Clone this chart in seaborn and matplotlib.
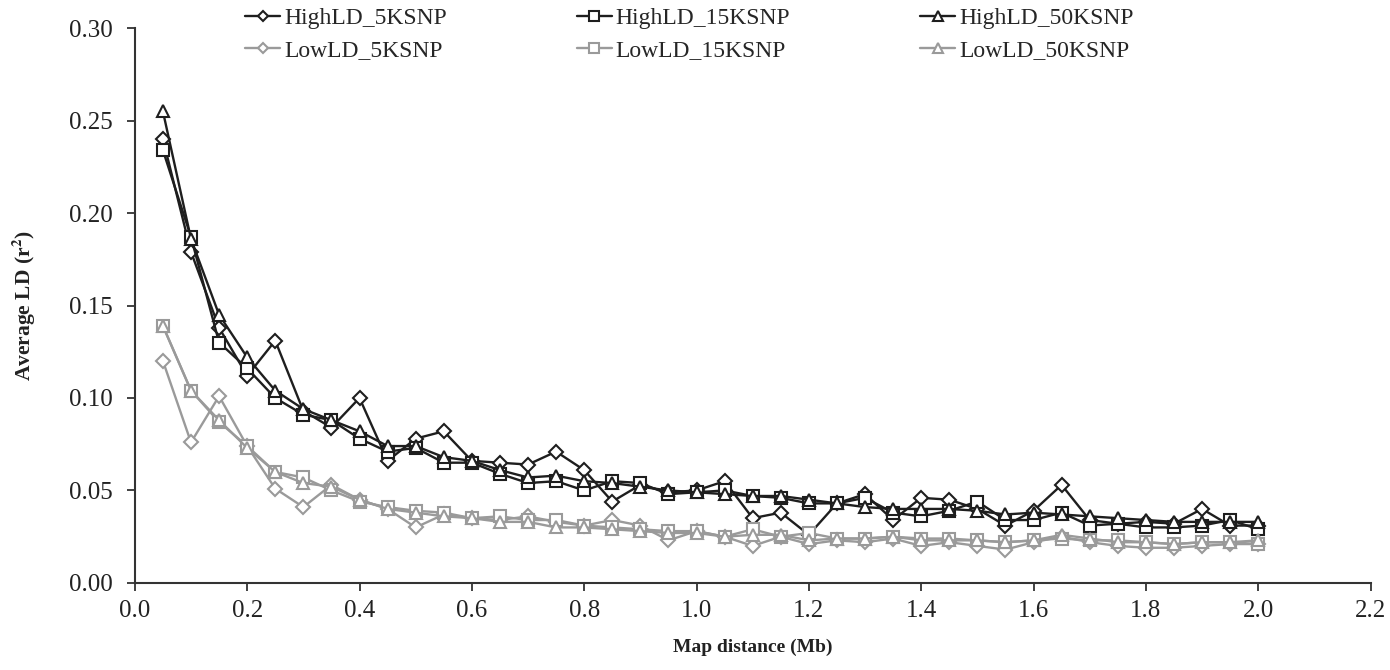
import matplotlib
matplotlib.use("Agg")
import matplotlib.pyplot as plt
import seaborn as sns
import numpy as np
import pandas as pd

# ---- data ----
distance = [0.05, 0.10, 0.15, 0.20, 0.25, 0.30, 0.35, 0.40, 0.45, 0.50,
            0.55, 0.60, 0.65, 0.70, 0.75, 0.80, 0.85, 0.90, 0.95, 1.00,
            1.05, 1.10, 1.15, 1.20, 1.25, 1.30, 1.35, 1.40, 1.45, 1.50,
            1.55, 1.60, 1.65, 1.70, 1.75, 1.80, 1.85, 1.90, 1.95, 2.00]

high_5k = [0.240, 0.179, 0.138, 0.112, 0.131, 0.093, 0.084, 0.100, 0.066, 0.078,
           0.082, 0.066, 0.065, 0.064, 0.071, 0.061, 0.044, 0.053, 0.049, 0.050,
           0.055, 0.035, 0.038, 0.026, 0.043, 0.048, 0.034, 0.046, 0.045, 0.040,
           0.031, 0.039, 0.053, 0.034, 0.032, 0.033, 0.032, 0.040, 0.031, 0.031]
high_15k = [0.234, 0.187, 0.130, 0.116, 0.100, 0.091, 0.088, 0.078, 0.071, 0.073,
            0.065, 0.065, 0.059, 0.054, 0.055, 0.050, 0.055, 0.054, 0.048, 0.049,
            0.050, 0.047, 0.046, 0.043, 0.043, 0.046, 0.038, 0.036, 0.039, 0.044,
            0.034, 0.034, 0.038, 0.031, 0.032, 0.030, 0.030, 0.031, 0.034, 0.029]
high_50k = [0.255, 0.186, 0.145, 0.122, 0.104, 0.094, 0.088, 0.082, 0.074, 0.074,
            0.068, 0.066, 0.061, 0.057, 0.058, 0.055, 0.054, 0.052, 0.050, 0.049,
            0.048, 0.047, 0.047, 0.045, 0.043, 0.041, 0.040, 0.040, 0.040, 0.039,
            0.037, 0.038, 0.037, 0.036, 0.035, 0.034, 0.033, 0.033, 0.033, 0.033]
low_5k = [0.120, 0.076, 0.101, 0.074, 0.051, 0.041, 0.053, 0.045, 0.040, 0.030,
          0.037, 0.035, 0.034, 0.036, 0.033, 0.031, 0.034, 0.031, 0.023, 0.028,
          0.025, 0.020, 0.025, 0.021, 0.023, 0.022, 0.024, 0.020, 0.022, 0.020,
          0.018, 0.022, 0.025, 0.022, 0.020, 0.019, 0.019, 0.020, 0.021, 0.021]
low_15k = [0.139, 0.104, 0.087, 0.074, 0.060, 0.057, 0.050, 0.044, 0.041, 0.039,
           0.038, 0.035, 0.036, 0.034, 0.034, 0.031, 0.030, 0.029, 0.028, 0.028,
           0.025, 0.029, 0.025, 0.027, 0.024, 0.024, 0.025, 0.024, 0.024, 0.023,
           0.022, 0.023, 0.024, 0.023, 0.023, 0.022, 0.021, 0.022, 0.022, 0.021]
low_50k = [0.139, 0.104, 0.088, 0.073, 0.060, 0.054, 0.052, 0.045, 0.040, 0.038,
           0.036, 0.035, 0.033, 0.033, 0.030, 0.030, 0.029, 0.028, 0.027, 0.027,
           0.025, 0.026, 0.026, 0.023, 0.024, 0.024, 0.025, 0.023, 0.023, 0.023,
           0.022, 0.023, 0.026, 0.024, 0.022, 0.022, 0.021, 0.022, 0.022, 0.023]

series_names = ["HighLD_5KSNP", "HighLD_15KSNP", "HighLD_50KSNP",
                "LowLD_5KSNP", "LowLD_15KSNP", "LowLD_50KSNP"]
series_values = [high_5k, high_15k, high_50k, low_5k, low_15k, low_50k]

x_ticks = [0.0, 0.2, 0.4, 0.6, 0.8, 1.0, 1.2, 1.4, 1.6, 1.8, 2.0, 2.2]
y_ticks = [0.00, 0.05, 0.10, 0.15, 0.20, 0.25, 0.30]

# ---- styling ----
dark = "#1e1e1e"
gray = "#9a9a9a"
colors = [dark, dark, dark, gray, gray, gray]
markers = ["D", "s", "^", "D", "s", "^"]
msizes = [7, 9, 9, 7, 9, 9]

sns.set_theme(style="ticks")
plt.rcParams["font.family"] = ["Liberation Serif", "DejaVu Serif"]
plt.rcParams["mathtext.fontset"] = "stix"

fig = plt.figure(figsize=(13.9, 6.7), dpi=100)
ax = fig.add_axes([0.097, 0.130, 0.889, 0.828])

handles = []
for name, vals, c, m, ms in zip(series_names, series_values, colors, markers, msizes):
    df = pd.DataFrame({"x": distance, "y": vals})
    sns.lineplot(data=df, x="x", y="y", ax=ax, color=c, marker=m,
                 markersize=ms, markerfacecolor="white", markeredgecolor=c,
                 markeredgewidth=1.5, linewidth=1.7, label=name, legend=False)
    handles.append(ax.lines[-1])

ax.set_xlim(0, 2.2)
ax.set_ylim(0, 0.30)
ax.set_xticks(x_ticks)
ax.set_xticklabels([f"{t:.1f}" for t in x_ticks])
ax.set_yticks(y_ticks)
ax.set_yticklabels([f"{t:.2f}" for t in y_ticks])
ax.tick_params(axis="both", labelsize=18, direction="out", length=6, width=1.3,
               color="#333333", labelcolor="#222222")
ax.tick_params(axis="y", pad=10)
ax.tick_params(axis="x", pad=6)
for side in ["top", "right"]:
    ax.spines[side].set_visible(False)
for side in ["left", "bottom"]:
    ax.spines[side].set_linewidth(1.5)
    ax.spines[side].set_color("#333333")

ax.set_xlabel("Map distance (Mb)", fontsize=14, fontweight="bold", labelpad=12,
              color="#222222")
ax.set_ylabel(r"Average LD (r$^\mathbf{2}$)", fontsize=15.5, fontweight="bold",
              labelpad=22, color="#222222")

order = [0, 3, 1, 4, 2, 5]
leg = fig.legend([handles[i] for i in order], [series_names[i] for i in order],
                 ncol=3, loc="upper left", bbox_to_anchor=(0.161, 1.02),
                 frameon=False, fontsize=17, handlelength=1.5,
                 handletextpad=0.15, columnspacing=5.5, labelspacing=0.45,
                 numpoints=1, markerscale=0.8)

fig.savefig("out.png", dpi=100)
